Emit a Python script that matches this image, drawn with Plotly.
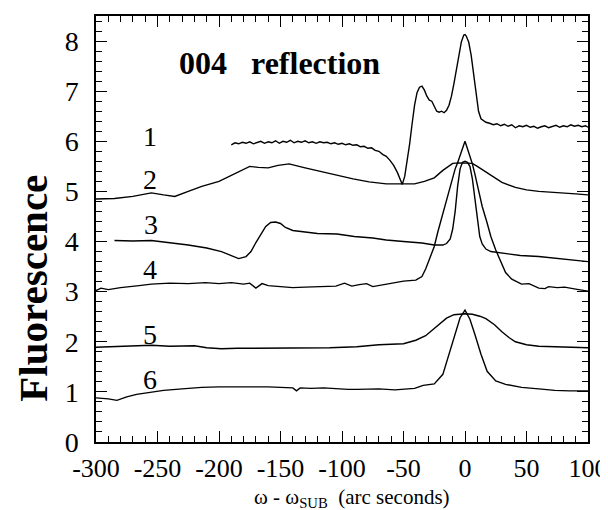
import plotly.graph_objects as go

# ---- data ----
c1_x = [-190, -187, -184, -181, -178, -175, -172, -169, -166, -163, -160, -157, -154, -151, -148, -145,
        -142, -139, -136, -133, -130, -127, -124, -121, -118, -115, -112, -109, -106, -103, -100, -97,
        -94, -91, -88, -85, -82, -79, -76, -73, -70, -67, -64, -61, -58, -55, -53, -51, -49, -47, -45,
        -43, -41, -39, -37, -35, -33, -31, -29, -27, -25, -23, -21, -19, -17, -15, -13, -11, -9, -7, -5,
        -3, -1, 0, 1, 3, 5, 7, 9, 11, 13, 15, 17, 20, 23, 26, 29, 32, 35, 38, 41, 44, 47, 50, 53, 56,
        59, 62, 65, 68, 71, 74, 77, 80, 83, 86, 89, 92, 95, 98, 100]
c1_y = [5.93, 5.97, 5.95, 5.98, 5.96, 5.99, 5.95, 5.98, 6.00, 5.96, 5.99, 5.97, 6.01, 5.96, 6.00, 5.98,
        6.02, 5.97, 6.00, 5.98, 6.01, 5.97, 5.99, 5.96, 5.99, 5.97, 5.98, 5.95, 5.97, 5.94, 5.96, 5.93,
        5.95, 5.92, 5.93, 5.89, 5.90, 5.86, 5.87, 5.82, 5.80, 5.74, 5.70, 5.62, 5.52, 5.38, 5.24, 5.14,
        5.30, 5.60, 5.95, 6.35, 6.72, 6.97, 7.08, 7.10, 7.02, 6.90, 6.82, 6.80, 6.70, 6.60, 6.58, 6.60,
        6.57, 6.62, 6.72, 6.90, 7.15, 7.45, 7.75, 7.98, 8.12, 8.13, 8.10, 7.98, 7.72, 7.35, 6.95, 6.60,
        6.45, 6.42, 6.38, 6.36, 6.33, 6.35, 6.31, 6.34, 6.30, 6.33, 6.27, 6.31, 6.29, 6.32, 6.28, 6.30,
        6.26, 6.29, 6.31, 6.27, 6.30, 6.32, 6.28, 6.31, 6.29, 6.33, 6.30, 6.32, 6.29, 6.31, 6.28]

c2_x = [-300, -285, -270, -255, -245, -236, -225, -214, -200, -188, -175, -168, -160, -152, -143, -130,
        -118, -105, -91, -78, -64, -55, -41, -33, -25, -18, -10, -5, 0, 6, 10, 16, 22, 30, 41, 50, 60,
        75, 90, 100]
c2_y = [4.85, 4.86, 4.90, 4.97, 4.93, 4.90, 5.00, 5.10, 5.20, 5.35, 5.50, 5.48, 5.47, 5.52, 5.55, 5.47,
        5.40, 5.33, 5.25, 5.19, 5.15, 5.15, 5.15, 5.20, 5.27, 5.42, 5.56, 5.57, 5.57, 5.56, 5.50, 5.40,
        5.30, 5.18, 5.08, 5.03, 5.00, 4.98, 4.95, 4.93]

c3_x = [-285, -270, -255, -240, -225, -210, -198, -190, -184, -178, -174, -170, -166, -162, -158, -154,
        -150, -146, -140, -130, -120, -104, -90, -75, -64, -50, -35, -25, -18, -15, -12, -10, -8, -6, -4,
        -2, 0, 2, 4, 6, 8, 10, 12, 14, 17, 21, 30, 45, 60, 75, 90, 100]
c3_y = [4.02, 4.01, 4.02, 3.98, 3.93, 3.87, 3.80, 3.72, 3.66, 3.70, 3.80, 3.98, 4.15, 4.30, 4.38, 4.39,
        4.36, 4.28, 4.22, 4.19, 4.16, 4.15, 4.10, 4.07, 4.03, 4.00, 3.97, 3.93, 3.93, 3.96, 4.05, 4.25,
        4.60, 5.10, 5.45, 5.58, 5.60, 5.58, 5.50, 5.25, 4.85, 4.40, 4.10, 3.95, 3.85, 3.80, 3.77, 3.72,
        3.70, 3.66, 3.62, 3.60]

c4_x = [-300, -296, -290, -280, -265, -255, -240, -225, -211, -200, -190, -180, -175, -170, -165, -160,
        -150, -140, -130, -115, -105, -98, -92, -86, -80, -75, -70, -60, -50, -40, -35, -32, -28, -25,
        -22, -18, -15, -13, -10, -8, -6, -4, -2, 0, 2, 4, 6, 8, 11, 14, 18, 21, 25, 29, 33, 38, 46, 52,
        60, 65, 68, 75, 81, 90, 100]
c4_y = [3.02, 3.07, 3.04, 3.08, 3.12, 3.15, 3.17, 3.16, 3.18, 3.16, 3.18, 3.15, 3.17, 3.07, 3.16, 3.12,
        3.10, 3.08, 3.09, 3.10, 3.11, 3.17, 3.11, 3.14, 3.16, 3.10, 3.12, 3.17, 3.21, 3.23, 3.30, 3.45,
        3.70, 3.90, 4.20, 4.57, 4.85, 5.03, 5.30, 5.45, 5.57, 5.70, 5.85, 6.00, 5.85, 5.70, 5.55, 5.35,
        5.05, 4.70, 4.37, 4.10, 3.83, 3.60, 3.38, 3.25, 3.15, 3.16, 3.07, 3.06, 3.10, 3.08, 3.09, 3.05,
        3.01]

c5_x = [-300, -290, -275, -255, -240, -220, -210, -198, -185, -170, -150, -130, -110, -88, -70, -50, -40,
        -32, -25, -20, -15, -9, 0, 6, 12, 17, 24, 30, 36, 41, 50, 60, 75, 90, 100]
c5_y = [1.89, 1.90, 1.90, 1.93, 1.91, 1.92, 1.88, 1.86, 1.87, 1.87, 1.88, 1.87, 1.88, 1.90, 1.94, 1.96,
        2.03, 2.12, 2.26, 2.37, 2.47, 2.54, 2.56, 2.55, 2.51, 2.46, 2.34, 2.20, 2.08, 2.00, 1.94, 1.91,
        1.90, 1.89, 1.88]

c6_x = [-300, -290, -283, -275, -267, -255, -245, -230, -214, -200, -180, -160, -140, -137, -134, -125,
        -115, -104, -95, -88, -70, -57, -41, -34, -25, -18, -13, -8, -4, 0, 4, 8, 13, 18, 25, 33, 46, 60,
        73, 85, 95, 100]
c6_y = [0.88, 0.86, 0.83, 0.90, 0.95, 1.00, 1.03, 1.06, 1.09, 1.10, 1.10, 1.10, 1.08, 1.02, 1.08, 1.07,
        1.08, 1.06, 1.05, 1.05, 1.06, 1.04, 1.07, 1.13, 1.16, 1.35, 1.75, 2.20, 2.48, 2.63, 2.45, 2.15,
        1.75, 1.41, 1.22, 1.15, 1.09, 1.06, 1.03, 1.02, 1.01, 1.02]

curve_labels = ["1", "2", "3", "4", "5", "6"]
label_x = [-256, -256, -255, -256, -256, -256]
label_y = [6.1, 5.24, 4.34, 3.44, 2.15, 1.24]

x_ticks = [-300, -250, -200, -150, -100, -50, 0, 50, 100]
y_ticks = [0, 1, 2, 3, 4, 5, 6, 7, 8]

FONT = "Liberation Serif"

fig = go.Figure()
for xs, ys in [(c1_x, c1_y), (c2_x, c2_y), (c3_x, c3_y), (c4_x, c4_y), (c5_x, c5_y), (c6_x, c6_y)]:
    fig.add_trace(go.Scatter(x=xs, y=ys, mode="lines",
                             line=dict(color="black", width=1.4), showlegend=False,
                             hoverinfo="skip"))

annotations = []
for t, lx, ly in zip(curve_labels, label_x, label_y):
    annotations.append(dict(x=lx, y=ly, xref="x", yref="y", text=t, showarrow=False,
                            font=dict(family=FONT, size=28, color="black"),
                            xanchor="center", yanchor="middle"))
annotations.append(dict(x=-150.5, y=7.56, xref="x", yref="y",
                        text="<b>004\u00a0\u00a0\u00a0reflection</b>", showarrow=False,
                        font=dict(family=FONT, size=32, color="black"),
                        xanchor="center", yanchor="middle"))
annotations.append(dict(x=-0.128, y=0.36, xref="paper", yref="paper", text="<b>Fluorescence</b>",
                        textangle=-90, showarrow=False,
                        font=dict(family=FONT, size=41, color="black"),
                        xanchor="center", yanchor="middle"))
annotations.append(dict(x=0.52, y=-0.132, xref="paper", yref="paper",
                        text="\u03c9 - \u03c9<sub>SUB</sub>  (arc seconds)", showarrow=False,
                        font=dict(family=FONT, size=21, color="black"),
                        xanchor="center", yanchor="middle"))

axis_common = dict(showline=True, linecolor="black", linewidth=1.5, mirror="ticks",
                   ticks="inside", tickcolor="black", tickwidth=1.3, ticklen=11,
                   showgrid=False, zeroline=False, automargin=False)

fig.update_layout(
    width=608, height=510,
    margin=dict(l=88, r=28, t=8, b=76, autoexpand=False),
    paper_bgcolor="white", plot_bgcolor="white",
    xaxis=dict(range=[-300, 100], tickvals=x_ticks, ticktext=[str(v) for v in x_ticks],
               minor=dict(dtick=10, ticks="inside", ticklen=6, tickcolor="black", tickwidth=1.2),
               ticklabelstandoff=2, tickfont=dict(family=FONT, size=26, color="black"),
               **axis_common),
    yaxis=dict(range=[0, 8.5], tickvals=y_ticks, ticktext=[str(v) for v in y_ticks],
               minor=dict(dtick=0.2, ticks="inside", ticklen=6, tickcolor="black", tickwidth=1.2),
               ticklabelstandoff=10, tickfont=dict(family=FONT, size=28, color="black"),
               **axis_common),
    annotations=annotations,
    hovermode=False,
)

fig.write_html("out.html")
